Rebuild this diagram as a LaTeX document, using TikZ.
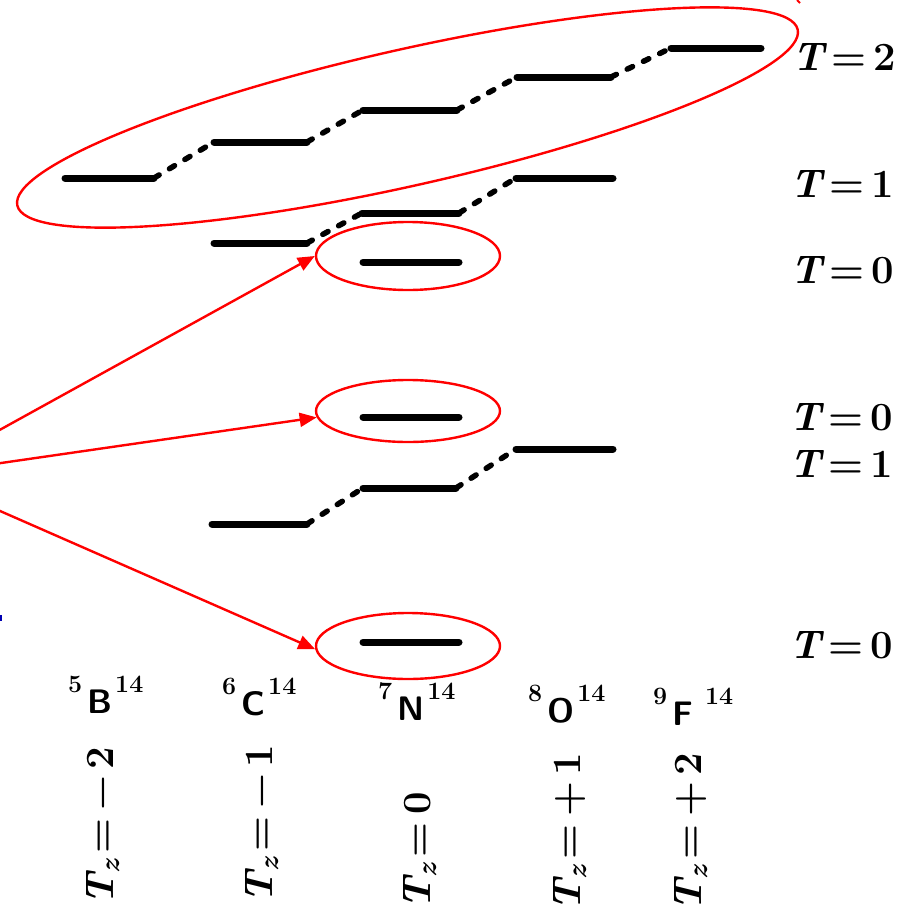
\documentclass[tikz,border=0pt]{standalone}
\usetikzlibrary{shapes.geometric,arrows.meta}
\newcommand{\nucl}[5]{\raisebox{21pt}{\fontsize{25}{25}\selectfont\bfseries #1}\hspace{#4}{\sffamily\bfseries #2}\hspace{#5}\raisebox{21pt}{\fontsize{25}{25}\selectfont\bfseries #3}}
\newcommand{\TT}{{\bfseries\itshape T}}
\newcommand{\Tz}{{\bfseries\itshape T}\raisebox{-6pt}{\fontsize{28}{28}\selectfont\bfseries\itshape z}}
\newcommand{\Tlab}[1]{\TT\hspace{7pt}=\hspace{7pt}#1}
\newcommand{\Tzlab}[1]{\Tz\hspace{7pt}=\hspace{8pt}#1}
\begin{document}
\begin{tikzpicture}[x=1pt,y=-1pt,
  lvl/.style={line width=7pt,line cap=round},
  trans/.style={line width=5.5pt,line cap=round,dash pattern=on 6pt off 12pt},
  ring/.style={draw=red,line width=2.4pt,ellipse,inner sep=0pt},
  arr/.style={draw=red,line width=2.4pt,-{Triangle[length=17pt,width=14pt]}},
  tlab/.style={anchor=base west,inner sep=0pt,font=\fontsize{40}{40}\selectfont\bfseries},
  tzlab/.style={rotate=90,anchor=west,inner sep=0pt,font=\fontsize{40}{40}\selectfont\bfseries},
  nuc/.style={anchor=base west,inner sep=0pt,font=\fontsize{34}{34}\selectfont}]
\clip (0,0) rectangle (909,914);
% level end points
\coordinate (B2a) at (65,178);  \coordinate (B2b) at (154,178);
\coordinate (C2a) at (214,142); \coordinate (C2b) at (307,142);
\coordinate (N2a) at (363,110); \coordinate (N2b) at (457,110);
\coordinate (O2a) at (517,77);  \coordinate (O2b) at (611,77);
\coordinate (F2a) at (671,48);  \coordinate (F2b) at (761,48);
\coordinate (C1a) at (214,243); \coordinate (C1b) at (307,243);
\coordinate (N1a) at (362,213); \coordinate (N1b) at (459,213);
\coordinate (O1a) at (516,178); \coordinate (O1b) at (613,178);
\coordinate (N0a) at (363,262); \coordinate (N0b) at (459,262);
\coordinate (N0ma) at (363,417); \coordinate (N0mb) at (459,417);
\coordinate (C1la) at (212,524); \coordinate (C1lb) at (307,524);
\coordinate (N1la) at (363,488); \coordinate (N1lb) at (456,488);
\coordinate (O1la) at (516,449); \coordinate (O1lb) at (613,449);
\coordinate (N0ba) at (363,642); \coordinate (N0bb) at (459,642);
% levels
\foreach \l in {B2,C2,N2,O2,F2,C1,N1,O1,N0,N0m,C1l,N1l,O1l,N0b}
  \draw[lvl] (\l a) -- (\l b);
% dashed isospin links
\draw[trans] (B2b) -- (C2a);
\draw[trans] (C2b) -- (N2a);
\draw[trans] (N2b) -- (O2a);
\draw[trans] (O2b) -- (F2a);
\draw[trans] (C1b) -- (N1a);
\draw[trans] (N1b) -- (O1a);
\draw[trans] (C1lb) -- (N1la);
\draw[trans] (N1lb) -- (O1la);
% red ellipses
\node[ring,minimum width=800pt,minimum height=136pt,rotate=12.7] (Ebig) at (407.5,117.5) {};
\node[ring,minimum width=184pt,minimum height=68pt] (E1) at (408,256) {};
\node[ring,minimum width=184pt,minimum height=62pt] (E2) at (408,411) {};
\node[ring,minimum width=184pt,minimum height=66pt] (E3) at (408,646) {};
% arrows
\coordinate (src) at (-82,475);
\draw[arr] (src) -- (E1.west);
\draw[arr] (src) -- (E2.184);
\draw[arr] (src) -- (E3.182);
% right labels
\node[tlab] (t2)  at (792,70)  {\Tlab{2}};
\node[tlab] (t1a) at (790,197) {\Tlab{1}};
\node[tlab] (t0a) at (790,283) {\Tlab{0}};
\node[tlab] (t0b) at (789,430) {\Tlab{0}};
\node[tlab] (t1b) at (789,477) {\Tlab{1}};
\node[tlab] (t0c) at (789,658) {\Tlab{0}};
% nuclides
\node[nuc] (nB) at (68,713)  {\nucl{5}{B}{14}{5pt}{3pt}};
\node[nuc] (nC) at (222,715) {\nucl{6}{C}{14}{5pt}{3pt}};
\node[nuc] (nN) at (378,720) {\nucl{7}{N}{14}{5pt}{3pt}};
\node[nuc] (nO) at (528,722) {\nucl{8}{O}{14}{5pt}{3pt}};
\node[nuc] (nF) at (653,725) {\nucl{9}{F}{14}{5pt}{12pt}};
% Tz labels
\node[tzlab] (zB) at (103,906) {\Tzlab{−\hspace{6pt}2}};
\node[tzlab] (zC) at (262,904) {\Tzlab{−\hspace{6pt}1}};
\node[tzlab] (zN) at (420,910) {\Tzlab{0}};
\node[tzlab] (zO) at (570,912) {\Tzlab{+\hspace{6pt}1}};
\node[tzlab] (zF) at (691,912) {\Tzlab{+\hspace{6pt}2}};
% cropped fragments at the edges
\draw[red,line width=2pt] (797,0) -- (800,3);
\fill[blue!70!black] (0,615) rectangle (2,621);
\end{tikzpicture}
\end{document}
